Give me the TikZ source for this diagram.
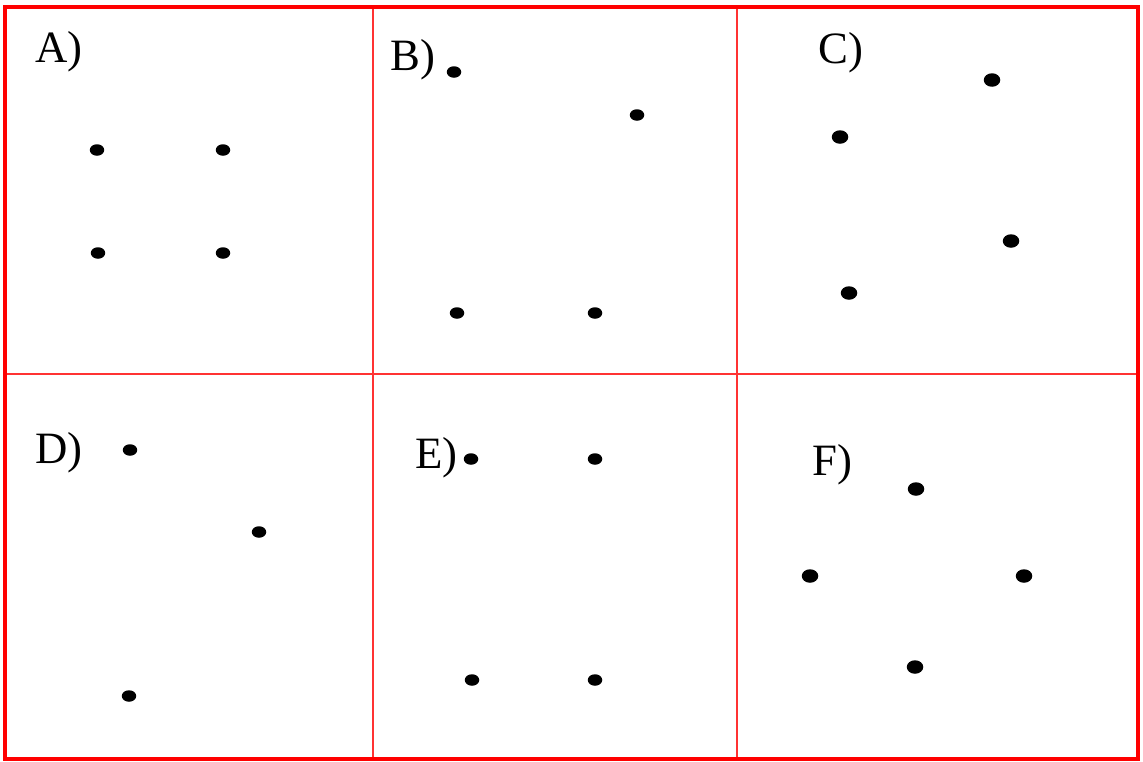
\documentclass[tikz,border=0pt]{standalone}
\usepackage{fontspec}
\setmainfont{Liberation Serif}
\usetikzlibrary{shapes}
\tikzstyle{dot}=[ellipse,fill=black,inner sep=0pt,minimum width=0.29cm,minimum height=0.23cm]
\tikzstyle{bigdot}=[dot,minimum width=0.33cm,minimum height=0.27cm]
\tikzstyle{lbl}=[anchor=base west,inner sep=0pt,font=\fontsize{25.5}{30}\selectfont]
\tikzstyle{frame}=[draw=red,line width=2pt]
\tikzstyle{grid}=[draw=red!80,line width=1.2pt]

\begin{document}
\begin{tikzpicture}[x=0.02cm,y=-0.02cm]
\useasboundingbox (0,0) rectangle (1143,761);
% panels
\draw[grid] (373,7) -- (373,759);
\draw[grid] (737,7) -- (737,759);
\draw[grid] (5,374) -- (1138,374);
\draw[frame] (5,7) rectangle (1138,759);
% A
\node[lbl] (la) at (35,62) {A)};
\node[dot] (a1) at (97,150) {};
\node[dot] (a2) at (223,150) {};
\node[dot] (a3) at (98,253) {};
\node[dot] (a4) at (223,253) {};
% B
\node[lbl] (lb) at (390,70) {B)};
\node[dot] (b1) at (454,72) {};
\node[dot] (b2) at (637,115) {};
\node[dot] (b3) at (457,313) {};
\node[dot] (b4) at (595,313) {};
% C
\node[lbl] (lc) at (818,63) {C)};
\node[bigdot] (c1) at (992,80) {};
\node[bigdot] (c2) at (840,137) {};
\node[bigdot] (c3) at (1011,241) {};
\node[bigdot] (c4) at (849,293) {};
% D
\node[lbl] (ld) at (35,463) {D)};
\node[dot] (d1) at (130,450) {};
\node[dot] (d2) at (259,532) {};
\node[dot] (d3) at (129,696) {};
% E
\node[lbl] (le) at (415,468) {E)};
\node[dot] (e1) at (471,459) {};
\node[dot] (e2) at (595,459) {};
\node[dot] (e3) at (472,680) {};
\node[dot] (e4) at (595,680) {};
% F
\node[lbl] (lf) at (812,475) {F)};
\node[bigdot] (f1) at (916,489) {};
\node[bigdot] (f2) at (810,576) {};
\node[bigdot] (f3) at (1024,576) {};
\node[bigdot] (f4) at (915,667) {};
\end{tikzpicture}
\end{document}
